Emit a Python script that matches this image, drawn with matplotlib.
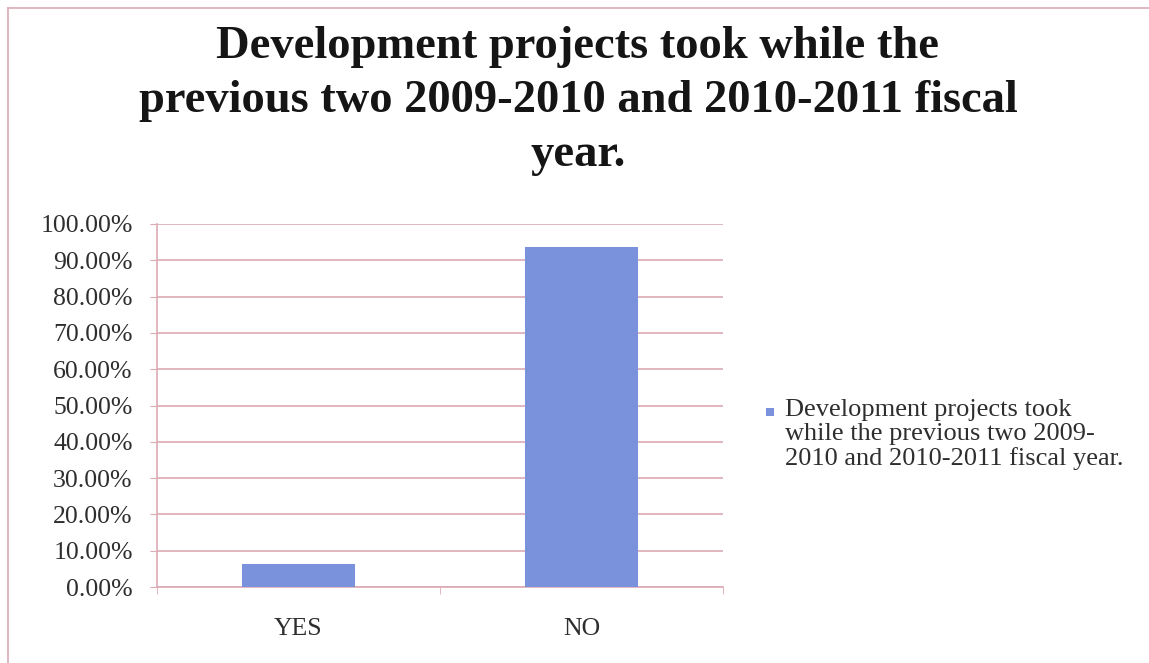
import matplotlib.pyplot as plt
from matplotlib.lines import Line2D
from matplotlib.patches import Rectangle
from matplotlib.ticker import FuncFormatter, MultipleLocator

categories = ["YES", "NO"]
shares = [6.4, 93.6]
series_name = ("Development projects took\n"
               "while the previous two 2009-\n"
               "2010 and 2010-2011 fiscal year.")
title = ("Development projects took while the\n"
         "previous two 2009-2010 and 2010-2011 fiscal\n"
         "year.")

plt.rcParams["font.family"] = ["Liberation Serif", "DejaVu Serif"]

BAR = "#7a91dc"
GRID = "#ddaab4"
TEXT = "#2e2e2e"
W, H = 1149, 663

fig = plt.figure(figsize=(W / 100, H / 100), dpi=100)
fig.patch.set_facecolor("white")
ax = fig.add_axes([157 / W, 1 - 587 / H, (723 - 157) / W, 363 / H])

x = range(len(categories))
ax.bar(x, shares, width=0.396, color=BAR, zorder=3)
ax.set_xlim(-0.5, 1.5)
ax.set_ylim(0, 100)
ax.yaxis.set_major_locator(MultipleLocator(10))
ax.yaxis.set_major_formatter(FuncFormatter(lambda v, _: f"{v:.2f}%"))
ax.set_xticks(list(x))
ax.set_xticklabels(categories)
ax.set_xticks([-0.5, 0.5, 1.5], minor=True)
ax.grid(axis="y", color=GRID, linewidth=1.2, zorder=0)

for side in ("top", "right"):
    ax.spines[side].set_visible(False)
for side in ("left", "bottom"):
    ax.spines[side].set_color(GRID)
    ax.spines[side].set_linewidth(1.2)

ax.tick_params(axis="y", length=5, color=GRID, labelsize=18.5, labelcolor=TEXT, pad=12.5)
ax.tick_params(axis="x", which="major", length=0, labelsize=18.5, labelcolor=TEXT, pad=22)
ax.tick_params(axis="x", which="minor", length=5, color=GRID)

fig.text(0.503, 1 - 26 / H, title, ha="center", va="top", fontsize=33.5, fontweight="bold",
         color="#151515", linespacing=1.37)

# legend: small swatch beside a three-line series label
fig.add_artist(Rectangle((766 / W, 1 - 416 / H), 8 / W, 8 / H, transform=fig.transFigure,
                         facecolor=BAR, edgecolor="none"))
fig.text(785 / W, 1 - 399 / H, series_name, ha="left", va="top", fontsize=19,
         color=TEXT, linespacing=1.12)

# thin frame around the chart area
fig.add_artist(Line2D([8 / W, 8 / W], [0, 1 - 8 / H], color=GRID, linewidth=1.2))
fig.add_artist(Line2D([8 / W, 1], [1 - 8 / H, 1 - 8 / H], color=GRID, linewidth=1.2))

fig.savefig("out.png", dpi=100)
